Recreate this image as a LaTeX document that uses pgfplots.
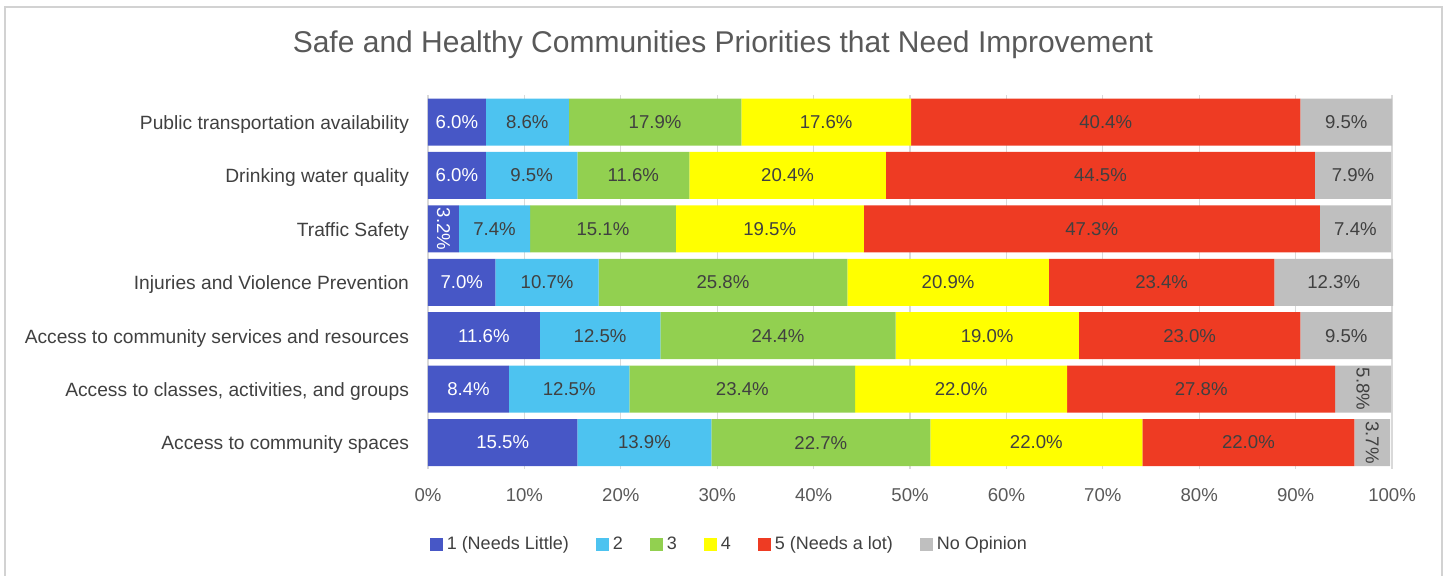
\documentclass[border=0pt]{standalone}
\usepackage{pgfplots}
\pgfplotsset{compat=1.18}
\usepackage{pgfplotstable}
\usepackage{fontspec}
\setmainfont{Liberation Sans}
\definecolor{c1}{HTML}{4757C6}
\definecolor{c2}{HTML}{4DC3F0}
\definecolor{c3}{HTML}{92D050}
\definecolor{c4}{HTML}{FFFF00}
\definecolor{c5}{HTML}{EE3B23}
\definecolor{c6}{HTML}{BFBFBF}
\definecolor{txt}{HTML}{404040}
\definecolor{tck}{HTML}{595959}
\pgfplotstableread{
y a b c d e f
0 6.0 8.6 17.9 17.6 40.4 9.5
1 6.0 9.5 11.6 20.4 44.5 7.9
2 3.2 7.4 15.1 19.5 47.3 7.4
3 7.0 10.7 25.8 20.9 23.4 12.3
4 11.6 12.5 24.4 19.0 23.0 9.5
5 8.4 12.5 23.4 22.0 27.8 5.8
6 15.5 13.9 22.7 22.0 22.0 3.7
}\data
\newcommand{\labfont}{\fontsize{9.3}{10}\selectfont}
\pgfplotsset{
  seg/.style n args={2}{fill=#1, draw=none,
    visualization depends on={rawx \as \val},
    nodes near coords={\pgfmathprintnumber[fixed,fixed zerofill,precision=1]{\val}\%},
    every node near coord/.append style={anchor=center, rotate={\val<5.9 ? -90 : 0}, text=#2, font=\labfont, inner sep=0pt}},
}
\begin{document}
\begin{tikzpicture}
\useasboundingbox (0pt,0pt) rectangle (723.5pt,288pt);
\draw[color=gray!35, line width=0.8pt] (2.5pt,-5pt) rectangle (721pt,284.5pt);
\node[font=\fontsize{15}{18}\selectfont, text=tck] at (361.5pt,265.5pt) {Safe and Healthy Communities Priorities that Need Improvement};
\begin{axis}[
  at={(214pt,53.35pt)}, anchor=south west,
  scale only axis, width=483pt, height=187pt,
  xbar stacked, bar width=23.5pt,
  xmin=0, xmax=100.2, ymin=-0.5, ymax=6.5, y dir=reverse,
  ytick={0,...,6},
  yticklabels={Public transportation availability, Drinking water quality, Traffic Safety, Injuries and Violence Prevention, Access to community services and resources, {Access to classes, activities, and groups}, Access to community spaces},
  xtick={0,10,...,100},
  xticklabel={\pgfmathprintnumber{\tick}\%},
  /pgf/number format/assume math mode=true,
  major tick length=0pt,
  axis line style={draw=none},
  xmajorgrids, major grid style={color=gray!30, line width=0.6pt},
  yticklabel style={font=\fontsize{9.6}{10}\selectfont, text=txt, xshift=-6pt, yshift=-1.2pt},
  xticklabel style={font=\fontsize{9.3}{10}\selectfont, text=tck, yshift=-6pt},
  legend columns=6,
  legend style={at={(0.313,-0.2016)}, anchor=center, draw=none, font=\fontsize{9}{10}\selectfont, text=txt,
    /tikz/every even column/.append style={column sep=11.5pt}},
  legend image code/.code={\fill[#1] (0pt,-3.25pt) rectangle (6.5pt,3.25pt);},
]
\addplot[seg={c1}{white}] table[x=a,y=y]{\data};
\addplot[seg={c2}{txt}] table[x=b,y=y]{\data};
\addplot[seg={c3}{txt}] table[x=c,y=y]{\data};
\addplot[seg={c4}{txt}] table[x=d,y=y]{\data};
\addplot[seg={c5}{txt}] table[x=e,y=y]{\data};
\addplot[seg={c6}{txt}] table[x=f,y=y]{\data};
\legend{1 (Needs Little), 2, 3, 4, 5 (Needs a lot), No Opinion}
\end{axis}
\end{tikzpicture}
\end{document}
